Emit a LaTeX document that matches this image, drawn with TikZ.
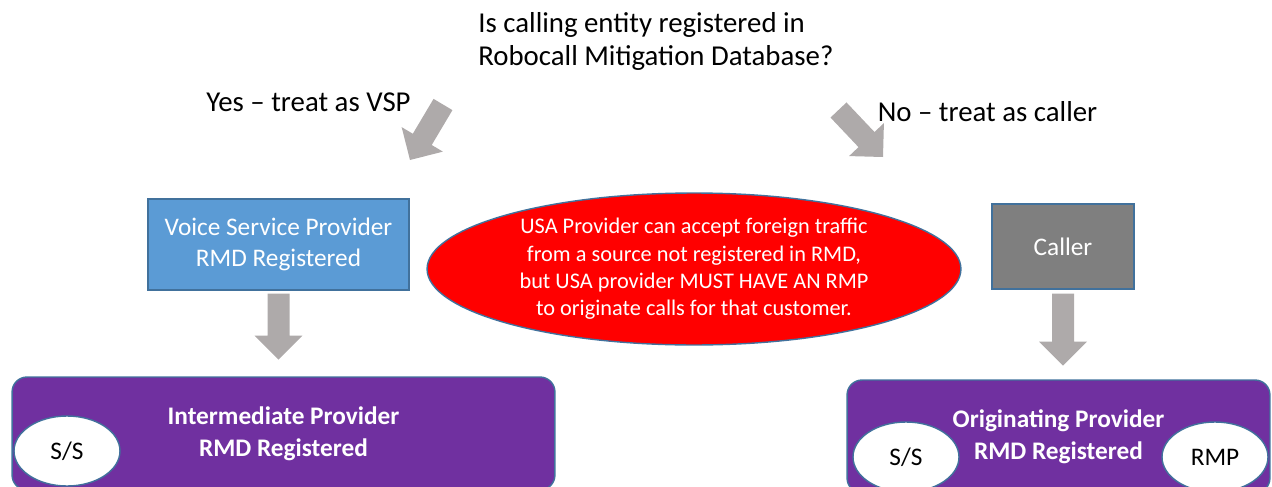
\documentclass[tikz,border=0pt]{standalone}
\usepackage{fontspec}
\setmainfont{Carlito}
\usepackage{tikz}
\usetikzlibrary{
  shapes.geometric,%
  calc,%
  positioning
}
\definecolor{vspblue}{HTML}{5B9BD5}
\definecolor{edgeblue}{HTML}{41719C}
\definecolor{callergray}{HTML}{7F7F7F}
\definecolor{arrowgray}{HTML}{AEAAAA}
\definecolor{providerpurple}{HTML}{7030A0}
\tikzset{
  bigtext/.style={font=\fontsize{16.4}{18.7}\selectfont, inner sep=0pt},
  boxtext/.style={font=\fontsize{14.4}{18}\selectfont, text=white, align=center},
  vspbox/.style={boxtext, draw=edgeblue, fill=vspblue, line width=0.8pt,
    minimum width=5.22cm, minimum height=1.82cm},
  callerbox/.style={boxtext, draw=edgeblue, fill=callergray, line width=0.8pt,
    minimum width=2.84cm, minimum height=1.7cm},
  usaellipse/.style={ellipse, draw=edgeblue, fill=red, text=white, inner sep=0pt,
    font=\fontsize{12.7}{15.6}\selectfont, align=center, line width=0.8pt,
    minimum width=10.68cm, minimum height=3.04cm},
  providerbox/.style={draw=edgeblue, fill=providerpurple, rounded corners=0.3cm,
    text=white, font=\fontsize{14.4}{18}\selectfont\bfseries, align=center,
    line width=0.8pt},
  subbubble/.style={ellipse, draw=edgeblue, fill=white, inner sep=0pt,
    font=\fontsize{14.4}{17}\selectfont, line width=0.8pt,
    minimum width=2.12cm, minimum height=1.4cm}
}
% block arrow from tail point to tip point
\newcommand{\grayarrow}[2]{%
  \coordinate (hb) at ($(#2)!0.48cm!(#1)$);
  \fill[arrowgray] ($(#1)!0.22cm!90:(#2)$) -- ($(hb)!0.22cm!-90:(#1)$) --
  ($(hb)!0.48cm!-90:(#1)$) -- (#2) -- ($(hb)!0.48cm!90:(#1)$) --
  ($(hb)!0.22cm!90:(#1)$) -- ($(#1)!0.22cm!-90:(#2)$) -- cycle;}

\begin{document}
\begin{tikzpicture}[x=0.02cm, y=-0.02cm]
  \clip (0,0) rectangle (1272,487);
  % question and the two answers
  \node[bigtext, anchor=west, align=left] (question) at (478,41.5)
  {Is calling entity registered in\\Robocall Mitigation Database?};
  \node[bigtext] (yes) at (308.5,102) {Yes -- treat as VSP};
  \node[bigtext] (no) at (987.5,112) {No -- treat as caller};
  % middle row
  \node[vspbox] (vsp) at (278.5,244.5) {Voice Service Provider\\RMD Registered};
  \node[usaellipse] (usa) at (694,269) {USA Provider can accept foreign traffic\\
    from a source not registered in RMD,\\but USA provider MUST HAVE AN RMP\\
    to originate calls for that customer.};
  \node[callerbox] (caller) at (1063,246.5) {Caller};
  % providers
  \node[providerbox, minimum width=10.86cm, minimum height=2.26cm] (inter)
  at (283.5,433.5) {Intermediate Provider\\RMD Registered};
  \node[providerbox, minimum width=8.46cm, minimum height=2.26cm] (orig)
  at (1058.5,436.5) {Originating Provider\\RMD Registered};
  \node[subbubble] (interss) at (67,451) {S/S};
  \node[subbubble] (origss) at (906,457) {S/S};
  \node[subbubble] (origrmp) at (1215,457) {RMP};
  % block arrows
  \coordinate (yestail) at (443,104.5);
  \coordinate (yestip) at (410,160);
  \coordinate (notail) at (838.5,110);
  \coordinate (notip) at (883,157);
  \coordinate (vsptail) at ($(vsp.south)+(0,3)$);
  \coordinate (vsptip) at ($(vsp.south)+(0,69)$);
  \coordinate (callertail) at ($(caller.south)+(0,4)$);
  \coordinate (callertip) at ($(caller.south)+(0,76)$);
  \grayarrow{yestail}{yestip}
  \grayarrow{notail}{notip}
  \grayarrow{vsptail}{vsptip}
  \grayarrow{callertail}{callertip}
\end{tikzpicture}
\end{document}
